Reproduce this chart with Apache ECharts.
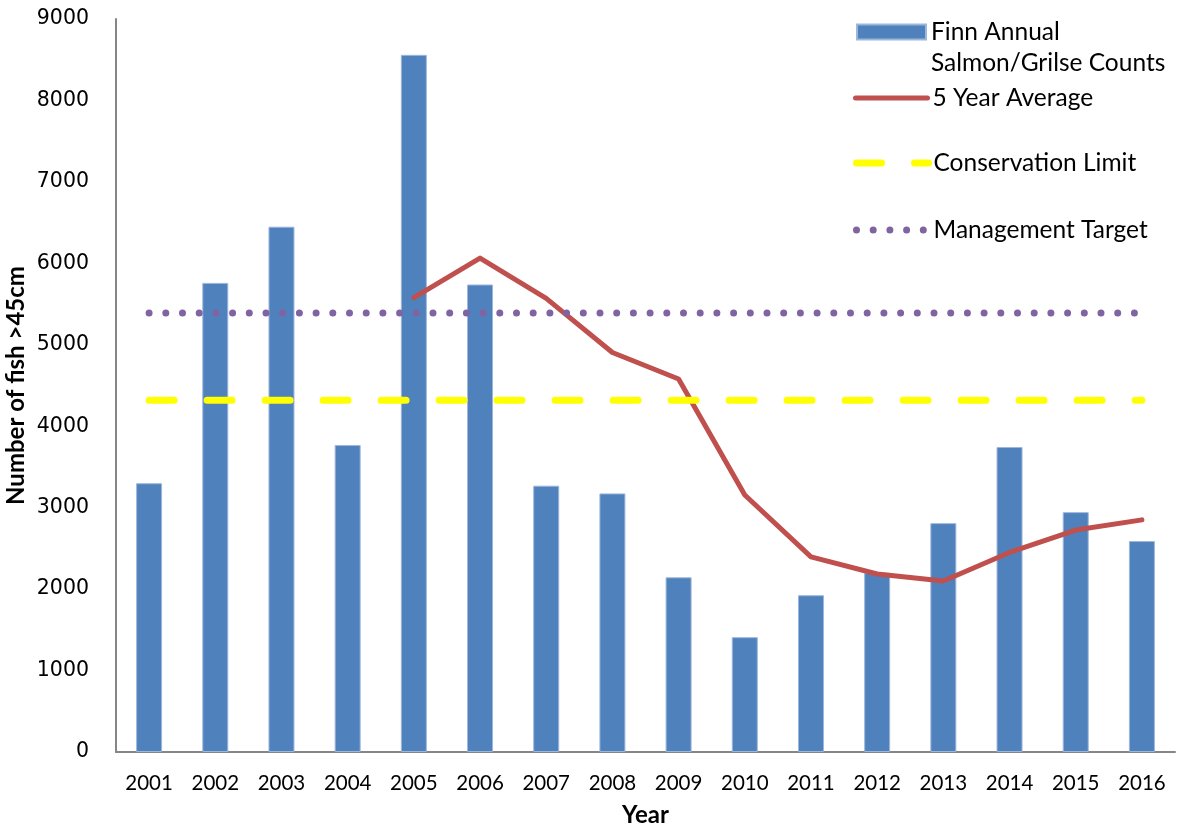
<!DOCTYPE html>
<html>
<head>
<meta charset="utf-8">
<script src="https://cdn.jsdelivr.net/npm/echarts@6/dist/echarts.min.js"></script>
<style>
  html, body { margin: 0; padding: 0; background: #fff; }
  #chart { width: 1178px; height: 827px; }
</style>
</head>
<body>
<div id="chart"></div>
<script>
// data
const years = ['2001', '2002', '2003', '2004', '2005', '2006', '2007', '2008',
  '2009', '2010', '2011', '2012', '2013', '2014', '2015', '2016']
const annualCounts = [3300, 5760, 6450, 3770, 8560, 5740, 3270, 3175,
  2145, 1410, 1925, 2200, 2810, 3745, 2945, 2590]
const fiveYearAvg = [null, null, null, null, 5580, 6065, 5570, 4905,
  4580, 3155, 2395, 2185, 2100, 2450, 2725, 2850]
const conservationLimit = years.map(() => 4320)
const managementTarget = years.map(() => 5390)

const labelFont = 'Lato, "Open Sans", sans-serif'

const chart = echarts.init(document.getElementById('chart'), null, { renderer: 'canvas' })

// one legend per item so each row can sit where it does in the picture
const legendBase = {
  orient: 'vertical',
  left: 853,
  padding: 0,
  itemWidth: 72,
  itemHeight: 15,
  selectedMode: false,
  itemStyle: { opacity: 0 },
  textStyle: { fontFamily: labelFont, fontSize: 24.5, color: '#000', lineHeight: 31 },
}

chart.setOption({
  backgroundColor: '#fff',
  animation: false,
  grid: { left: 116, right: 3, top: 19, bottom: 75, outerBoundsMode: 'none' },
  legend: [
    {
      ...legendBase,
      top: 32 - 46.5,
      left: 856,
      itemWidth: 69,
      icon: 'rect',
      itemStyle: {},
      data: ['Finn Annual Salmon/Grilse Counts'],
      // empty first line keeps "Finn Annual" level with the icon
      formatter: () => '\nFinn Annual\nSalmon/Grilse Counts',
    },
    {
      ...legendBase, top: 98 - 15.5, data: ['5 Year Average'],
      lineStyle: { width: 5, cap: 'round' },
    },
    {
      ...legendBase, top: 163 - 15.5, data: ['Conservation Limit'],
      lineStyle: { width: 7, type: [25, 33], cap: 'round' },
    },
    {
      ...legendBase, top: 230 - 15.5, data: ['Management Target'],
      lineStyle: { width: 7, type: [0, 16.7], cap: 'round' },
    },
  ],
  xAxis: {
    type: 'category',
    data: years,
    name: 'Year',
    nameLocation: 'middle',
    nameGap: 51,
    nameMoveOverlap: false,
    nameTextStyle: { fontFamily: labelFont, fontSize: 24, fontWeight: 'bold', color: '#000' },
    axisLine: { lineStyle: { color: '#868686', width: 2 } },
    axisTick: { show: false },
    axisLabel: { interval: 0, margin: 21, fontFamily: labelFont, fontSize: 20.5, color: '#000' },
  },
  yAxis: {
    type: 'value',
    min: 0,
    max: 9000,
    interval: 1000,
    name: 'Number of fish >45cm',
    nameLocation: 'middle',
    nameGap: 88,
    nameMoveOverlap: false,
    nameTextStyle: { fontFamily: labelFont, fontSize: 24, fontWeight: 'bold', color: '#000' },
    axisLine: { show: true, lineStyle: { color: '#868686', width: 2 } },
    axisTick: { show: false },
    splitLine: { show: false },
    axisLabel: {
      margin: 27,
      fontFamily: '"DejaVu Sans", Verdana, sans-serif',
      fontSize: 20.5,
      color: '#000',
      formatter: (v) => String(v),
    },
  },
  series: [
    {
      name: 'Finn Annual Salmon/Grilse Counts',
      type: 'bar',
      data: annualCounts,
      barWidth: 26,
      itemStyle: { color: '#4F81BD', borderColor: '#9DB7DB', borderWidth: 1 },
    },
    {
      name: '5 Year Average',
      type: 'line',
      data: fiveYearAvg,
      symbol: 'none',
      lineStyle: { color: '#C0504D', width: 5, cap: 'round', join: 'round' },
      itemStyle: { color: '#C0504D' },
    },
    {
      name: 'Conservation Limit',
      type: 'line',
      data: conservationLimit,
      symbol: 'none',
      lineStyle: { color: '#FFFF00', width: 7, type: [25, 33], cap: 'round' },
      itemStyle: { color: '#FFFF00' },
    },
    {
      name: 'Management Target',
      type: 'line',
      data: managementTarget,
      symbol: 'none',
      lineStyle: { color: '#8064A2', width: 7, type: [0, 16.7], cap: 'round' },
      itemStyle: { color: '#8064A2' },
    },
  ],
})

window.addEventListener('resize', () => chart.resize())
</script>
</body>
</html>
